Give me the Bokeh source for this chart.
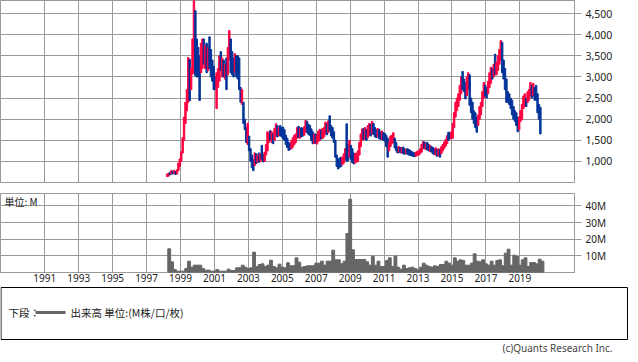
import pandas as pd
from bokeh.plotting import figure
from bokeh.layouts import column
from bokeh.models import Range1d, FixedTicker, NumeralTickFormatter, ColumnDataSource, Label
from bokeh.core.properties import value
from bokeh.embed import file_html
from bokeh.resources import INLINE

# ---------------- data (monthly price bars, Mar 1998 - Mar 2020) ----------------
price_start = "1998-03"
price_high = [
    700, 720, 740, 780, 770, 790, 760, 800, 960, 1060,                           # 1998 (Mar-Dec)
    1230, 1560, 2050, 2400, 2700, 3460, 3420, 3200, 3900, 4860, 4570, 3900,      # 1999
    3700, 3500, 3800, 3900, 3900, 3750, 3800, 3700, 3950, 3650, 3400, 3250,      # 2000
    3000, 3100, 3200, 3500, 3600, 3450, 3400, 3300, 3450, 3700, 4100, 3900,      # 2001
    3600, 3450, 3550, 3500, 3500, 3450, 2750, 2700, 2400, 2000, 1800, 1900,      # 2002
    1600, 1300, 1150, 1050, 1200, 1180, 1150, 1200, 1180, 1380, 1160, 1220,      # 2003
    1400, 1700, 1680, 1730, 1700, 1650, 1780, 1890, 1850, 1800, 1850, 1800,      # 2004
    1810, 1750, 1620, 1550, 1450, 1420, 1500, 1560, 1620, 1650, 1800, 1830,      # 2005
    1780, 1800, 1780, 1820, 1970, 1950, 1880, 1850, 1770, 1700, 1650, 1650,      # 2006
    1620, 1720, 1760, 1740, 1780, 1800, 1930, 1890, 1960, 2080, 1850, 1800,      # 2007
    1700, 1500, 1150, 1050, 1080, 1100, 1100, 1180, 1300, 1890, 1400, 1500,      # 2008
    1380, 1300, 1200, 1180, 1200, 1250, 1450, 1650, 1770, 1780, 1800, 1760,      # 2009
    1850, 1900, 1880, 1950, 1900, 1800, 1750, 1780, 1760, 1700, 1720, 1680,      # 2010
    1660, 1620, 1550, 1450, 1600, 1620, 1680, 1550, 1450, 1340, 1350, 1330,      # 2011
    1320, 1340, 1300, 1280, 1300, 1280, 1260, 1230, 1220, 1200, 1220, 1240,      # 2012
    1250, 1300, 1400, 1470, 1460, 1420, 1450, 1400, 1380, 1350, 1330, 1300,      # 2013
    1320, 1280, 1300, 1280, 1350, 1400, 1460, 1520, 1610, 1690, 1680, 1700,      # 2014
    1900, 2160, 2400, 2500, 2600, 2800, 3000, 3130, 2950, 2870, 3000, 3100,      # 2015
    3050, 2500, 2400, 2200, 2150, 2050, 2100, 2300, 2400, 2650, 2870, 2800,      # 2016
    2750, 2900, 3100, 3230, 3200, 3300, 3540, 3350, 3500, 3650, 3860, 3820,      # 2017
    3400, 3200, 2950, 2650, 2600, 2500, 2450, 2300, 2200, 2150, 2050, 2050,      # 2018
    2200, 2350, 2550, 2600, 2500, 2650, 2700, 2870, 2800, 2850, 2750, 2800,      # 2019
    2600, 2350, 2280,                                                            # 2020
]
price_low = [
    640, 650, 680, 700, 700, 710, 690, 700, 780, 880,
    1000, 1200, 1500, 1900, 2200, 2400, 2440, 2700, 3070, 3100, 3030, 3000,
    3000, 2440, 3100, 3200, 3300, 3200, 3100, 3150, 3200, 3000, 2900, 2700,
    2700, 2250, 2750, 2900, 3150, 3000, 3000, 2950, 2700, 3050, 3400, 3100,
    3050, 3000, 3100, 3000, 2950, 2700, 2400, 2350, 1900, 1750, 1450, 1400,
    1250, 1000, 850, 780, 900, 950, 980, 980, 1000, 1050, 990, 1000,
    1150, 1250, 1450, 1500, 1450, 1420, 1500, 1600, 1580, 1600, 1610, 1580,
    1530, 1500, 1400, 1330, 1260, 1280, 1300, 1340, 1400, 1450, 1550, 1560,
    1550, 1580, 1600, 1620, 1700, 1680, 1640, 1610, 1500, 1420, 1420, 1430,
    1410, 1470, 1500, 1530, 1540, 1580, 1650, 1630, 1680, 1720, 1600, 1550,
    1450, 1100, 880, 820, 860, 880, 920, 960, 1040, 1000, 1020, 1100,
    1050, 970, 940, 960, 980, 1000, 1150, 1350, 1500, 1520, 1520, 1500,
    1560, 1620, 1600, 1650, 1640, 1580, 1560, 1580, 1540, 1520, 1520, 1500,
    1480, 1350, 1100, 1250, 1350, 1420, 1450, 1320, 1250, 1200, 1220, 1200,
    1200, 1180, 1170, 1180, 1170, 1150, 1140, 1130, 1120, 1110, 1120, 1140,
    1150, 1180, 1220, 1300, 1300, 1280, 1270, 1250, 1230, 1220, 1180, 1160,
    1150, 1120, 1130, 1100, 1180, 1250, 1300, 1360, 1420, 1500, 1540, 1530,
    1550, 1800, 2050, 2200, 2300, 2450, 2600, 2700, 2650, 2480, 2550, 2700,
    2330, 2150, 2000, 1900, 1800, 1690, 1850, 2000, 2100, 2300, 2500, 2550,
    2500, 2600, 2750, 2850, 2950, 3000, 3050, 3050, 3150, 3300, 3400, 3100,
    2950, 2700, 2400, 2400, 2350, 2250, 2100, 2000, 1950, 1850, 1700, 1750,
    1950, 2000, 2250, 2300, 2300, 2400, 2450, 2550, 2500, 2550, 2450, 2450,
    2150, 2000, 1650,
]
# u = month closed up (red), d = month closed down (blue)
price_dir = "".join([
    "uudududuuu",      # 1998
    "uuuuuuduuudd",    # 1999
    "dduudududddd",    # 2000
    "duuudududuud",    # 2001
    "dduddddudddu",    # 2002
    "ddddudududdu",    # 2003
    "uuududuududd",    # 2004
    "dddddduuuuud",    # 2005
    "udduudddddud",    # 2006
    "uuuduuududdd",    # 2007
    "dddddduuuddu",    # 2008
    "ddduuuuuudud",    # 2009
    "uududdduddud",    # 2010
    "ddduuuudddud",    # 2011
    "uddudddddduu",    # 2012
    "uuuududduddd",    # 2013
    "ududuuuuuddu",    # 2014
    "uuuuuuuddduu",    # 2015
    "dddddduuuuud",    # 2016
    "duuududuuuud",    # 2017
    "dddddddddddu",    # 2018
    "uuuuduuududd",    # 2019
    "ddd",             # 2020
])

vol_start = "1998-04"   # two-month volume bars
volume = [
    14.2, 6.4, 1.8, 0.8, 0.8, 0.8, 2.4, 6.8, 3.2, 4.4,
    4.4, 4.4, 2.4, 1.4, 1.4, 0.8, 0.8, 1.8, 0.8, 0.8,
    0.8, 2.0, 1.2, 1.2, 2.8, 2.8, 4.4, 3.2, 2.4, 2.8,
    12.2, 3.6, 4.8, 5.2, 3.6, 4.4, 7.4, 3.6, 2.8, 5.0,
    3.2, 2.8, 5.8, 4.0, 4.0, 8.8, 6.2, 3.2, 3.6, 4.0,
    4.0, 4.0, 5.6, 5.6, 6.8, 4.4, 6.8, 6.8, 13.4, 7.6,
    7.6, 5.2, 6.8, 23.4, 44.0, 13.6, 7.8, 7.8, 7.8, 7.8,
    6.4, 4.4, 9.8, 4.4, 6.8, 3.6, 3.6, 7.2, 8.8, 3.6,
    9.8, 3.2, 2.0, 4.4, 2.4, 2.8, 3.2, 2.4, 1.6, 3.2,
    5.6, 4.4, 3.6, 3.2, 4.0, 3.6, 4.8, 4.8, 6.8, 5.6,
    4.4, 8.8, 6.8, 7.6, 7.2, 4.4, 4.4, 5.6, 11.2, 6.8,
    6.4, 7.6, 5.2, 4.4, 6.8, 4.4, 7.2, 7.6, 4.0, 11.6,
    14.0, 4.4, 10.4, 9.6, 4.4, 7.6, 8.8, 3.6, 6.0, 6.0,
    5.2, 8.0, 6.8,
]

year_ticks = list(range(1991, 2020, 2))
price_ticks = [1000, 1500, 2000, 2500, 3000, 3500, 4000, 4500]
volume_ticks = [10, 20, 30, 40]
volume_tick_labels = ["10M", "20M", "30M", "40M"]

assert len(price_high) == len(price_low) == len(price_dir), (len(price_high), len(price_low), len(price_dir))

UP, DOWN = "#FF0040", "#003399"
GRID = "#999999"
VOLC = "#666666"
TXT = "#222222"
LATIN = "Noto Sans"
CJK = "Noto Sans CJK JP"

months = pd.date_range(price_start, periods=len(price_high), freq="MS")
pt = months.year + (months.month - 1) / 12 + 1 / 24
price_src = ColumnDataSource(dict(
    x=list(pt), hi=price_high, lo=price_low,
    color=[UP if d == "u" else DOWN for d in price_dir],
))
vmonths = pd.date_range(vol_start, periods=len(volume), freq="2MS")
vt = vmonths.year + (vmonths.month - 1) / 12 + 1 / 12
vol_src = ColumnDataSource(dict(x=list(vt), v=volume))

W = 630
xr = Range1d(1988.39, 2022.22)

# ---------------- price panel ----------------
p1 = figure(width=W, height=187, x_range=xr, y_range=Range1d(500, 4811),
            output_backend="svg", toolbar_location=None,
            x_axis_location=None, y_axis_location="right",
            min_border_left=0, min_border_right=56, min_border_top=0, min_border_bottom=5)
p1.vbar(x="x", width=1 / 12, bottom="lo", top="hi", color="color", source=price_src)
p1.yaxis.ticker = FixedTicker(ticks=price_ticks)
p1.yaxis.formatter = NumeralTickFormatter(format="0,0")
p1.xgrid.ticker = FixedTicker(ticks=year_ticks)

# ---------------- volume panel ----------------
p2 = figure(width=W, height=99, x_range=xr, y_range=Range1d(0, 47.4),
            output_backend="svg", toolbar_location=None,
            y_axis_location="right",
            min_border_left=0, min_border_right=56, min_border_top=6, min_border_bottom=14)
p2.vbar(x="x", width=2 / 12, top="v", bottom=0, color=VOLC, source=vol_src)
p2.yaxis.ticker = FixedTicker(ticks=volume_ticks)
p2.yaxis.major_label_overrides = {t: s for t, s in zip(volume_ticks, volume_tick_labels)}
p2.xaxis.ticker = FixedTicker(ticks=year_ticks)
p2.xaxis.major_label_overrides = {y: str(y) for y in year_ticks}
p2.xaxis.axis_line_color = None
p2.xaxis.major_tick_line_color = None
p2.xaxis.major_tick_out = 0
p2.xaxis.major_tick_in = 0
p2.xaxis.minor_tick_line_color = None
p2.xaxis.major_label_standoff = 1
p2.xaxis.major_label_text_font = LATIN
p2.xaxis.major_label_text_font_size = "10px"
p2.xaxis.major_label_text_color = TXT
p2.add_layout(Label(x=4, y=71, x_units="screen", y_units="screen", text="単位: M",
                    text_font=CJK, text_font_size="10px", text_color=TXT,
                    text_baseline="middle"))

for p, fs in ((p1, "10.5px"), (p2, "10px")):
    p.outline_line_color = GRID
    p.outline_line_alpha = 1
    p.grid.grid_line_color = GRID
    p.grid.grid_line_alpha = 1
    p.grid.grid_line_width = 1
    p.yaxis.axis_line_color = GRID
    p.yaxis.major_tick_line_color = GRID
    p.yaxis.major_tick_out = 7
    p.yaxis.major_tick_in = 0
    p.yaxis.minor_tick_line_color = None
    p.yaxis.major_label_standoff = 4
    p.yaxis.major_label_text_font = LATIN
    p.yaxis.major_label_text_font_size = fs
    p.yaxis.major_label_text_color = TXT
    p.background_fill_color = "white"
    p.border_fill_color = "white"

# ---------------- legend / footer (data units = page pixels) ----------------
p3 = figure(width=W, height=68, x_range=Range1d(8, 638), y_range=Range1d(0, 68),
            output_backend="svg", toolbar_location=None,
            x_axis_location=None, y_axis_location=None,
            min_border_left=0, min_border_right=0, min_border_top=0, min_border_bottom=0)
if "frame_align" in p3.properties():
    p3.frame_align = False
p3.outline_line_color = None
p3.grid.visible = False
p3.quad(left=[8.5], right=[635], bottom=[15], top=[67], fill_color=None,
        line_color="black", line_width=1)
p3.text(x=[16], y=[42], text=["下段："], text_font=value(CJK), text_font_size="10.5px",
        text_color=TXT, text_baseline="middle")
p3.segment(x0=[43], y0=[42], x1=[73], y1=[42], line_color=VOLC, line_width=3)
p3.text(x=[78], y=[42], text=["出来高 単位:(M株/口/枚)"], text_font=value(CJK),
        text_font_size="10.5px", text_color=TXT, text_baseline="middle")
p3.text(x=[620], y=[6.5], text=["(c)Quants Research Inc."], text_font=value(LATIN),
        text_font_size="10px", text_color="#444444", text_align="right",
        text_baseline="middle")

layout = column(p1, p2, p3, spacing=0)
open("out.html", "w").write(file_html(layout, INLINE))
